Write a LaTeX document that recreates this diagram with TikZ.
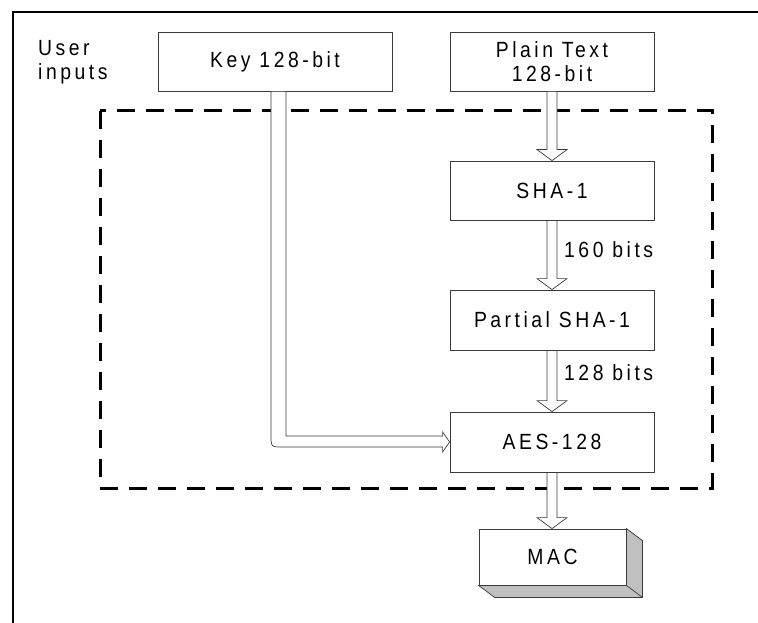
\documentclass[tikz,border=0pt]{standalone}
\usepackage{fontspec}
\setmainfont{Liberation Sans}[FakeStretch=0.88, LetterSpace=16]
\usetikzlibrary{calc}
\definecolor{edgegray}{HTML}{3A3A3A}
\definecolor{shadegray}{HTML}{C0C0C0}
\tikzset{
  blk/.style={rectangle, draw=edgegray, line width=0.8pt, fill=white,
    font=\fontsize{22}{24}\selectfont, minimum width=204pt, minimum height=59pt,
    align=center, inner sep=2pt},
  fat/.style={draw=edgegray, line width=0.7pt, fill=white, line join=miter},
  side/.style={draw=edgegray, line width=0.7pt, fill=shadegray},
  lb/.style={font=\fontsize{22}{24}\selectfont, anchor=west, inner sep=0pt},
  zone/.style={draw=black, line width=3pt, dash pattern=on 18pt off 11pt},
  frame/.style={draw=black, line width=2pt},
}
% hollow block arrow straight down from #1 to #2
\newcommand{\FatDown}[2]{%
  \draw[fat] let \p1=(#1.south), \p2=(#2.north) in
    (\x1-5pt,\y1) -- (\x1+5pt,\y1) -- (\x1+5pt,\y2+11pt) -- (\x1+15pt,\y2+11pt)
    -- (\x1,\y2) -- (\x1-15pt,\y2+11pt) -- (\x1-5pt,\y2+11pt) -- cycle;}

\begin{document}
\begin{tikzpicture}[x=1pt,y=-1pt]
\useasboundingbox (0,0) rectangle (758,623);

\draw[frame] (13,623) -- (13,12) -- (758,12);
\draw[zone] (100,111) rectangle (712,488);

\node[lb, align=left] (usr) at (38,62) {User\\inputs};

\node[blk, minimum width=234pt] (key) at (275,61.5) {Key 128-bit};
\node[blk] (plain) at (552,61.5) {Plain Text\\128-bit};
\node[blk] (sha) at (552,190.5) {SHA-1};
\node[blk, minimum height=60pt] (psha) at (552,320) {Partial SHA-1};
\node[blk, minimum height=60pt] (aes) at (552,442) {AES-128};
\node[blk, minimum width=147pt, minimum height=56pt] (mac) at (552.5,557) {MAC};

% 3-d faces of the output block
\draw[side] (mac.north east) -- ++(16,12) |- ($(mac.south west)+(16,12)$)
  -- (mac.south west) -- (mac.south east) -- cycle;
\draw[side] (mac.south east) -- ++(16,12);

\node[lb] (b160) at (564,250) {160 bits};
\node[lb] (b128) at (564,373) {128 bits};

\FatDown{plain}{sha}
\FatDown{sha}{psha}
\FatDown{psha}{aes}
\FatDown{aes}{mac}

% key path bends into the cipher
\draw[fat] let \p1=(key.south), \p2=(aes.west) in
  (\x1-4pt,\y1) -- (\x1+11pt,\y1) -- (\x1+11pt,\y2+6pt) -- (\x2-7pt,\y2+6pt)
  -- (\x2-7pt,\y2+10pt) -- (\x2,\y2) -- (\x2-7pt,\y2-10pt) -- (\x2-7pt,\y2-5pt)
  -- (\x1+8pt,\y2-5pt) .. controls (\x1-4pt,\y2-5pt) .. (\x1-4pt,\y2+7pt) -- cycle;

\end{tikzpicture}
\end{document}
